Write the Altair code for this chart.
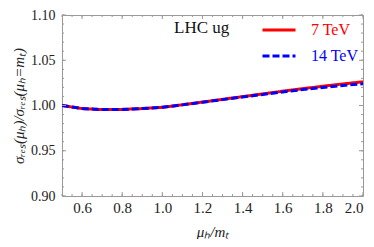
import altair as alt
import pandas as pd
import numpy as np

x_vals = [0.5, 0.6, 0.7, 0.8, 0.9, 1.0, 1.1, 1.2, 1.3, 1.4, 1.5, 1.6, 1.7, 1.8, 1.9, 2.0]
red_7 = [1.000, 0.9966, 0.9955, 0.9957, 0.9966, 0.9980, 1.0008, 1.0038, 1.0068, 1.0098, 1.0128, 1.0158, 1.0186, 1.0213, 1.0238, 1.0262]
blue_14 = [1.000, 0.9966, 0.9955, 0.9957, 0.9966, 0.9980, 1.0007, 1.0036, 1.0065, 1.0094, 1.0122, 1.0150, 1.0176, 1.0200, 1.0221, 1.0240]
series_names = ["7 TeV", "14 TeV"]
colors = ["#ff0000", "#0000ff"]

x_major = [0.6, 0.8, 1.0, 1.2, 1.4, 1.6, 1.8, 2.0]
y_major = [0.90, 0.95, 1.00, 1.05, 1.10]
x_minor = [round(v, 2) for v in np.arange(0.5, 2.0001, 0.05)]
y_minor = [round(v, 3) for v in np.arange(0.90, 1.1001, 0.01)]

W, H = 301, 181
FONT = "Liberation Serif"

df = pd.DataFrame({
    "x": x_vals * 2,
    "y": red_7 + blue_14,
    "series": [series_names[0]] * len(x_vals) + [series_names[1]] * len(x_vals),
})

xs = alt.Scale(domain=[0.5, 2.0], nice=False, zero=False)
ys = alt.Scale(domain=[0.9, 1.1], nice=False, zero=False)

lines = alt.Chart(df).mark_line(strokeWidth=3, clip=True).encode(
    x=alt.X("x:Q", scale=xs, axis=alt.Axis(
        title="μₕ/mₜ", values=x_major, format=".1f", domain=False, ticks=False,
        grid=False, labelFont=FONT, labelFontSize=15, labelColor="#222",
        labelPadding=4, titleFont=FONT, titleFontSize=15, titleFontStyle="italic",
        titleFontWeight="normal", titleColor="#222", titlePadding=9)),
    y=alt.Y("y:Q", scale=ys, axis=alt.Axis(
        title="σᵣₑₛ(μₕ)/σᵣₑₛ(μₕ=mₜ)", values=y_major, format=".2f", domain=False,
        ticks=False, grid=False, labelFont=FONT, labelFontSize=14, labelColor="#222",
        labelPadding=7, titleFont=FONT, titleFontSize=15, titleFontStyle="italic",
        titleFontWeight="normal", titleColor="#222", titlePadding=4)),
    color=alt.Color("series:N", sort=series_names,
                    scale=alt.Scale(domain=series_names, range=colors),
                    legend=alt.Legend(
                        title=None, orient="none", legendX=199, legendY=-3,
                        symbolType="stroke", symbolSize=1089, symbolStrokeWidth=3,
                        labelFont=FONT, labelFontSize=16, labelOffset=14,
                        labelColor=alt.ExprRef("datum.label == '7 TeV' ? '#ff0000' : '#0000ff'"),
                        rowPadding=-11, padding=0)),
    strokeDash=alt.StrokeDash("series:N", sort=series_names,
                              scale=alt.Scale(domain=series_names, range=[[1, 0], [7, 3]]),
                              legend=None),
    order=alt.Order("order:Q"),
).transform_calculate(order="datum.series == '7 TeV' ? 0 : 1")


def tick_layer(values, length, side):
    d = pd.DataFrame({"v": values})
    c = alt.Chart(d).mark_rule(color="#999", strokeWidth=1)
    if side == "bottom":
        return c.encode(x=alt.X("v:Q", scale=xs), y=alt.value(H), y2=alt.value(H - length))
    if side == "top":
        return c.encode(x=alt.X("v:Q", scale=xs), y=alt.value(0), y2=alt.value(length))
    if side == "left":
        return c.encode(y=alt.Y("v:Q", scale=ys), x=alt.value(0), x2=alt.value(length))
    return c.encode(y=alt.Y("v:Q", scale=ys), x=alt.value(W), x2=alt.value(W - length))


ticks = []
for side in ["bottom", "top"]:
    ticks.append(tick_layer(x_minor, 2, side))
    ticks.append(tick_layer(x_major, 4, side))
for side in ["left", "right"]:
    ticks.append(tick_layer(y_minor, 2, side))
    ticks.append(tick_layer(y_major, 4, side))

label = alt.Chart(pd.DataFrame({"t": ["LHC ug"]})).mark_text(
    font=FONT, fontSize=17, color="#111", align="left", baseline="middle"
).encode(text="t:N", x=alt.value(112), y=alt.value(13))

chart = alt.layer(lines, *ticks, label).properties(
    width=W, height=H,
    autosize=alt.AutoSizeParams(type="none"),
    padding={"left": 54, "top": 7, "right": 3, "bottom": 43},
).configure_view(stroke="#999", strokeWidth=1)

chart.save("out.html", embed_options={"renderer": "svg", "actions": False})
